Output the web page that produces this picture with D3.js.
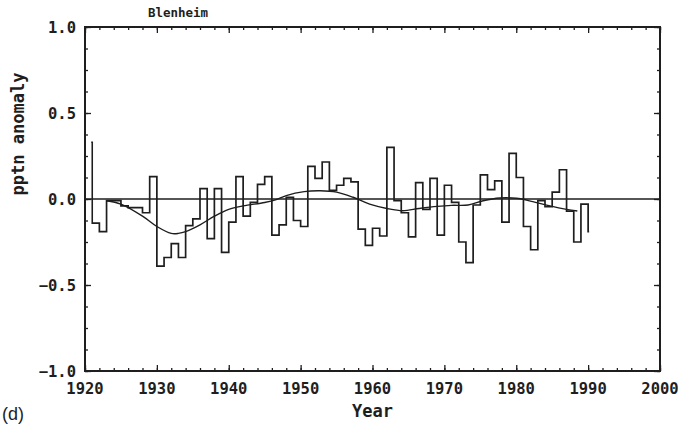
<!DOCTYPE html>
<html>
<head>
<meta charset="utf-8">
<script src="https://cdn.jsdelivr.net/npm/d3@7"></script>
<style>
  html, body { margin: 0; padding: 0; background: #fff; }
  svg { display: block; }
  .lbl { font-family: "DejaVu Sans Mono", monospace; font-weight: bold; fill: #1e1e1e; }
</style>
</head>
<body>
<svg id="chart" width="693" height="426"></svg>
<script>
// Annual precipitation anomaly, Blenheim. Each value spans [year, year + 1];
// the record is shown between 1921 and 1990.
const years = [1920, 1921, 1922, 1923, 1924, 1925, 1926, 1927, 1928, 1929,
               1930, 1931, 1932, 1933, 1934, 1935, 1936, 1937, 1938, 1939,
               1940, 1941, 1942, 1943, 1944, 1945, 1946, 1947, 1948, 1949,
               1950, 1951, 1952, 1953, 1954, 1955, 1956, 1957, 1958, 1959,
               1960, 1961, 1962, 1963, 1964, 1965, 1966, 1967, 1968, 1969,
               1970, 1971, 1972, 1973, 1974, 1975, 1976, 1977, 1978, 1979,
               1980, 1981, 1982, 1983, 1984, 1985, 1986, 1987, 1988, 1989,
               1990];
const anomaly = [0.33, -0.14, -0.19, -0.01, -0.01, -0.04, -0.05, -0.05, -0.08, 0.13,
                 -0.39, -0.34, -0.26, -0.34, -0.155, -0.115, 0.06, -0.23, 0.06, -0.31,
                 -0.135, 0.13, -0.10, -0.02, 0.085, 0.13, -0.21, -0.15, 0.01, -0.125,
                 -0.16, 0.19, 0.12, 0.215, 0.05, 0.08, 0.12, 0.10, -0.175, -0.27,
                 -0.17, -0.215, 0.30, -0.01, -0.08, -0.22, 0.095, -0.06, 0.12, -0.21,
                 0.08, -0.02, -0.25, -0.37, -0.035, 0.14, 0.055, 0.105, -0.135, 0.265,
                 0.125, -0.16, -0.295, -0.01, -0.045, 0.04, 0.17, -0.07, -0.25, -0.03,
                 -0.19];
const recordStart = 1921, recordEnd = 1990;

// Low-pass filtered curve
const smoothYears = [1923, 1925, 1928, 1930, 1932, 1933, 1934, 1936, 1938, 1940,
                     1942, 1945, 1946.5, 1948, 1950.5, 1952.7, 1955, 1957.3, 1959.6, 1962,
                     1964.2, 1966.5, 1969, 1971, 1973.3, 1975.4, 1977.7, 1980, 1982.3, 1984.7,
                     1987, 1988.5];
const smoothValues = [-0.01, -0.03, -0.10, -0.16, -0.20, -0.20, -0.19, -0.15, -0.10, -0.06,
                      -0.04, -0.02, -0.005, 0.02, 0.043, 0.048, 0.04, 0.01, -0.03, -0.055,
                      -0.068, -0.055, -0.043, -0.037, -0.035, -0.01, 0.006, 0.004, -0.015, -0.04,
                      -0.06, -0.07];

const xTickLabels = [1920, 1930, 1940, 1950, 1960, 1970, 1980, 1990, 2000];
const yTickLabels = [-1.0, -0.5, 0.0, 0.5, 1.0];

const svg = d3.select("#chart");
const ink = "#1e1e1e";
const plotL = 85, plotR = 660, plotT = 27, plotB = 371;

const x = d3.scaleLinear().domain([1920, 2000]).range([plotL, plotR]);
const y = d3.scaleLinear().domain([-1, 1]).range([plotB, plotT]);

// Inward ticks on all four sides
const minorX = d3.range(1920, 2001, 2), majorX = xTickLabels;
const minorY = d3.range(-1, 1.0001, 0.125), majorY = yTickLabels;

function tickAxis(axisGen, transform) {
  const g = svg.append("g").attr("transform", transform).call(axisGen);
  g.selectAll(".domain").remove();
  g.selectAll("line").attr("stroke", ink).attr("stroke-width", 1.3);
  g.selectAll("text").remove();
  return g;
}
tickAxis(d3.axisBottom(x).tickValues(minorX).tickSizeInner(-3).tickSizeOuter(0), `translate(0,${plotB})`);
tickAxis(d3.axisBottom(x).tickValues(majorX).tickSizeInner(-6).tickSizeOuter(0), `translate(0,${plotB})`);
tickAxis(d3.axisTop(x).tickValues(minorX).tickSizeInner(-3).tickSizeOuter(0), `translate(0,${plotT})`);
tickAxis(d3.axisTop(x).tickValues(majorX).tickSizeInner(-6).tickSizeOuter(0), `translate(0,${plotT})`);
tickAxis(d3.axisLeft(y).tickValues(minorY).tickSizeInner(-3).tickSizeOuter(0), `translate(${plotL},0)`);
tickAxis(d3.axisLeft(y).tickValues(majorY).tickSizeInner(-6).tickSizeOuter(0), `translate(${plotL},0)`);
tickAxis(d3.axisRight(y).tickValues(minorY).tickSizeInner(-3).tickSizeOuter(0), `translate(${plotR},0)`);
tickAxis(d3.axisRight(y).tickValues(majorY).tickSizeInner(-6).tickSizeOuter(0), `translate(${plotR},0)`);

// Frame
svg.append("rect")
  .attr("x", plotL).attr("y", plotT)
  .attr("width", plotR - plotL).attr("height", plotB - plotT)
  .attr("fill", "none").attr("stroke", ink).attr("stroke-width", 2);

// Tick labels
svg.append("g").selectAll("text").data(xTickLabels).join("text")
  .attr("class", "lbl")
  .attr("x", d => x(d)).attr("y", plotB + 23)
  .attr("text-anchor", "middle").attr("font-size", 15.5)
  .text(d => d);

svg.append("g").selectAll("text").data(yTickLabels).join("text")
  .attr("class", "lbl")
  .attr("x", plotL - 9).attr("y", d => y(d) + 5.5)
  .attr("text-anchor", "end").attr("font-size", 15.5)
  .text(d => d3.format(".1f")(d).replace("-", "\u2212"));

// Zero line
svg.append("line")
  .attr("x1", x(1920)).attr("x2", x(2000))
  .attr("y1", y(0)).attr("y2", y(0))
  .attr("stroke", ink).attr("stroke-width", 1.4);

// Annual step outline, clipped to the record span
svg.append("clipPath").attr("id", "record")
  .append("rect")
  .attr("x", x(recordStart) - 1).attr("y", plotT)
  .attr("width", x(recordEnd) - x(recordStart) + 2).attr("height", plotB - plotT);

const stepLine = d3.line()
  .x((d, i) => x(years[i] + 0.5))
  .y(d => y(d))
  .curve(d3.curveStep);

svg.append("path")
  .attr("clip-path", "url(#record)")
  .attr("d", stepLine(anomaly))
  .attr("fill", "none").attr("stroke", ink)
  .attr("stroke-width", 1.7).attr("stroke-linejoin", "miter");

// Smoothed curve
const smoothLine = d3.line()
  .x((d, i) => x(smoothYears[i]))
  .y(d => y(d))
  .curve(d3.curveCatmullRom);

svg.append("path")
  .attr("d", smoothLine(smoothValues))
  .attr("fill", "none").attr("stroke", ink).attr("stroke-width", 1.4);

// Titles
svg.append("text").attr("class", "lbl")
  .attr("x", 178).attr("y", 17).attr("text-anchor", "middle")
  .attr("font-size", 12.5).text("Blenheim");

svg.append("text").attr("class", "lbl")
  .attr("x", (plotL + plotR) / 2).attr("y", 417).attr("text-anchor", "middle")
  .attr("font-size", 17).text("Year");

svg.append("text").attr("class", "lbl")
  .attr("transform", "translate(24,134) rotate(-90)")
  .attr("text-anchor", "middle").attr("font-size", 17).text("pptn anomaly");

// Panel letter
svg.append("text")
  .attr("x", 2).attr("y", 420)
  .attr("font-family", "Liberation Sans, Arial, sans-serif")
  .attr("font-size", 18).attr("fill", ink).text("(d)");
</script>
</body>
</html>
